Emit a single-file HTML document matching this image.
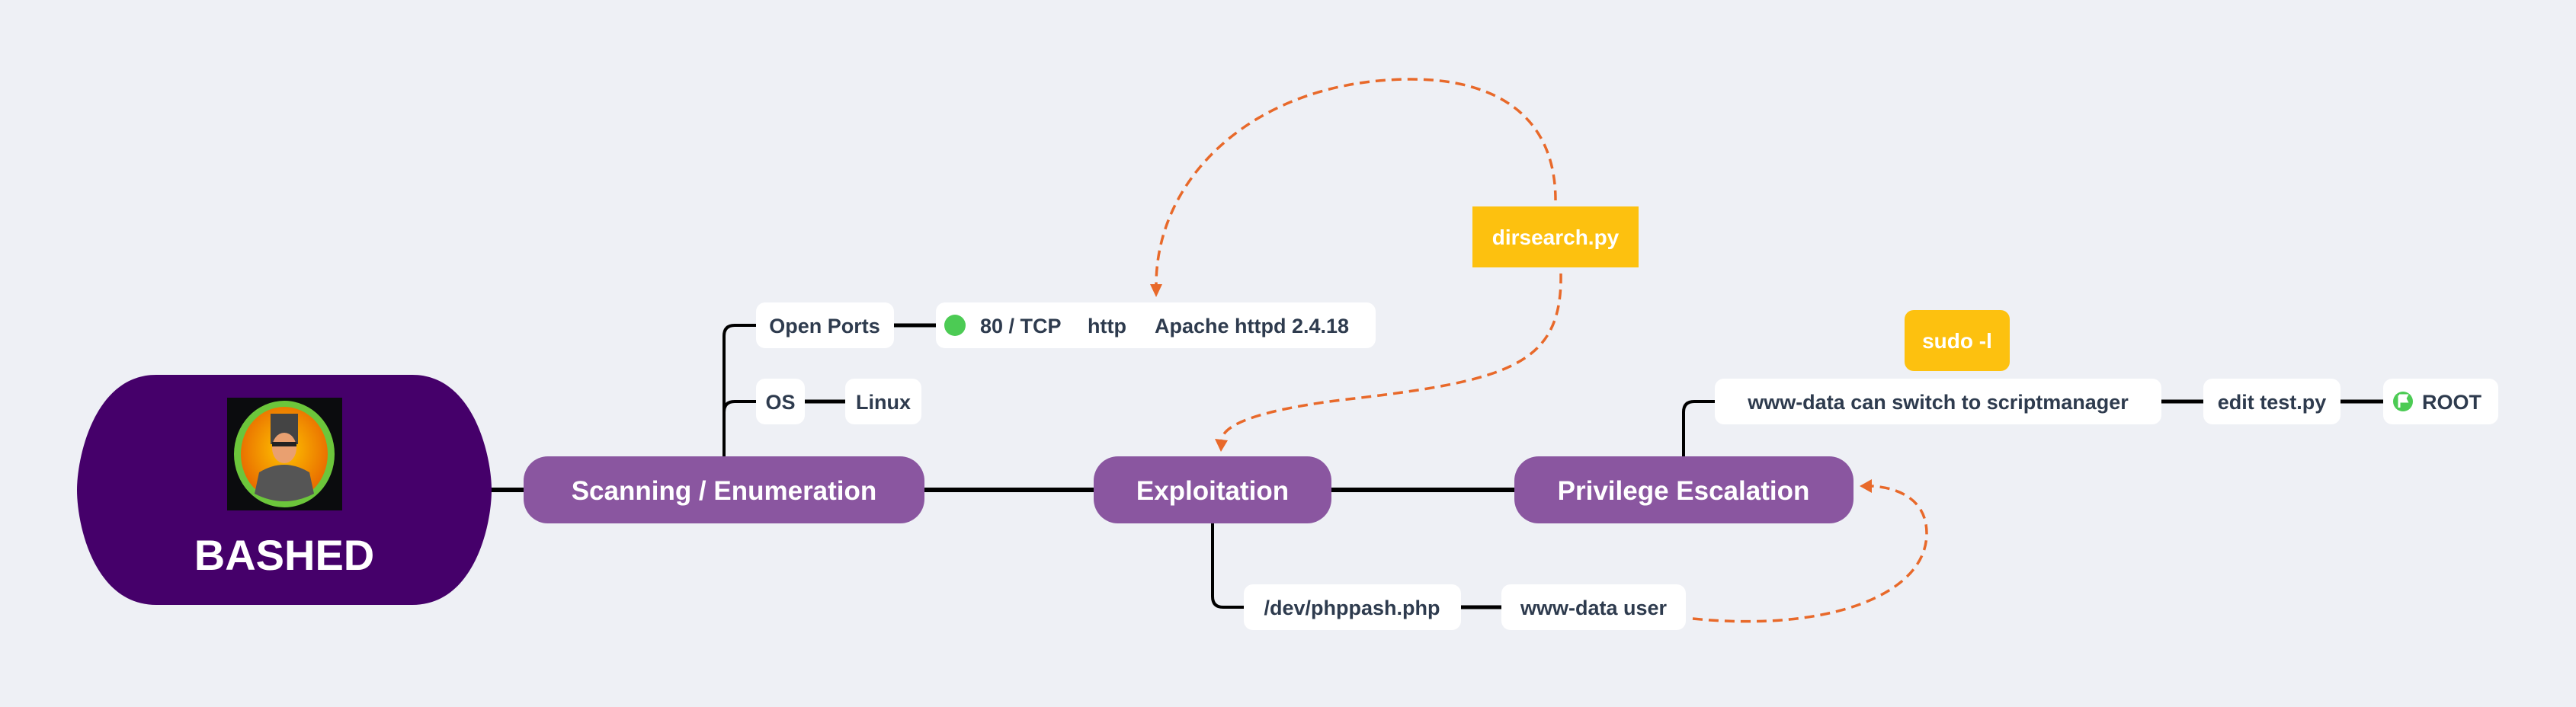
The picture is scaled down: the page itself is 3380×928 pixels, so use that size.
<!DOCTYPE html>
<html><head><meta charset="utf-8"><style>
html,body{margin:0;padding:0;background:#eef0f5;}
svg{display:block;}
text{font-family:"Liberation Sans",sans-serif;font-weight:bold;}
.d{fill:#2e3b4e;font-size:27px;}
.w{fill:#fff;}
</style></head><body>
<svg width="3380" height="928" viewBox="0 0 3380 928" xmlns="http://www.w3.org/2000/svg">
<rect width="3380" height="928" fill="#eef0f5"/>
<!-- main lines -->
<g stroke="#000" stroke-width="6" fill="none">
<line x1="640" y1="643" x2="690" y2="643"/>
<line x1="1210" y1="643" x2="1440" y2="643"/>
<line x1="1744" y1="643" x2="1990" y2="643"/>
</g>
<g stroke="#000" stroke-width="5" fill="none">
<line x1="1173" y1="427" x2="1228" y2="427"/>
<line x1="1056" y1="527" x2="1109" y2="527"/>
<line x1="2836" y1="527" x2="2891" y2="527"/>
<line x1="3071" y1="527" x2="3127" y2="527"/>
<line x1="1917" y1="797" x2="1970" y2="797"/>
</g>
<g stroke="#000" stroke-width="4" fill="none">
<path d="M950 600 V441 Q950 427 964 427 H994"/>
<path d="M950 541 Q950 527 964 527 H994"/>
<path d="M1591 686 V783 Q1591 797 1605 797 H1634"/>
<path d="M2209 600 V541 Q2209 527 2223 527 H2252"/>
</g>
<!-- BASHED -->
<path d="M205 492 H541 C622 492 645 600 645 643 C645 690 622 794 541 794 H205 C124 794 101 690 101 643 C101 600 124 492 205 492 Z" fill="#45006a"/>
<rect x="298" y="522" width="151" height="148" fill="#0b0c0e"/>
<defs><radialGradient id="og" cx="50%" cy="45%" r="55%"><stop offset="0" stop-color="#ffc400"/><stop offset="1" stop-color="#e86a00"/></radialGradient></defs>
<ellipse cx="373" cy="596" rx="66" ry="70" fill="#6cc63b"/>
<ellipse cx="373" cy="596" rx="57" ry="62" fill="url(#og)"/>
<path d="M340 620 Q373 600 406 620 L412 648 Q373 668 334 648 Z" fill="#555"/>
<rect x="355" y="543" width="36" height="40" fill="#444"/>
<ellipse cx="373" cy="588" rx="16" ry="20" fill="#e9a070"/>
<rect x="357" y="580" width="32" height="6" fill="#222"/>
<text x="373" y="748" text-anchor="middle" class="w" style="font-size:56px">BASHED</text>
<!-- purple nodes -->
<rect x="687" y="599" width="526" height="88" rx="32" fill="#8a56a0"/>
<text x="950" y="656" text-anchor="middle" class="w" style="font-size:35px">Scanning / Enumeration</text>
<rect x="1435" y="599" width="312" height="88" rx="32" fill="#8a56a0"/>
<text x="1591" y="656" text-anchor="middle" class="w" style="font-size:35px">Exploitation</text>
<rect x="1987" y="599" width="445" height="88" rx="32" fill="#8a56a0"/>
<text x="2209" y="656" text-anchor="middle" class="w" style="font-size:35px">Privilege Escalation</text>
<!-- white boxes -->
<g fill="#fff">
<rect x="992" y="397" width="181" height="60" rx="12"/>
<rect x="1228" y="397" width="577" height="60" rx="12"/>
<rect x="992" y="497" width="64" height="60" rx="12"/>
<rect x="1109" y="497" width="100" height="60" rx="12"/>
<rect x="1632" y="767" width="285" height="60" rx="12"/>
<rect x="1970" y="767" width="242" height="60" rx="12"/>
<rect x="2250" y="497" width="586" height="60" rx="12"/>
<rect x="2891" y="497" width="180" height="60" rx="12"/>
<rect x="3127" y="497" width="151" height="60" rx="12"/>
</g>
<text x="1082" y="437" text-anchor="middle" class="d">Open Ports</text>
<circle cx="1253" cy="427" r="14" fill="#4ccb54"/>
<text x="1286" y="437" class="d">80 / TCP</text>
<text x="1427" y="437" class="d">http</text>
<text x="1515" y="437" class="d">Apache httpd 2.4.18</text>
<text x="1024" y="537" text-anchor="middle" class="d">OS</text>
<text x="1159" y="537" text-anchor="middle" class="d">Linux</text>
<text x="1774" y="807" text-anchor="middle" class="d">/dev/phppash.php</text>
<text x="2091" y="807" text-anchor="middle" class="d">www-data user</text>
<text x="2543" y="537" text-anchor="middle" class="d">www-data can switch to scriptmanager</text>
<text x="2981" y="537" text-anchor="middle" class="d">edit test.py</text>
<circle cx="3153" cy="527" r="13" fill="#4ccb54"/>
<path d="M3148 519 V535 M3148 519 H3158 L3156 523 L3158 527 H3148" stroke="#fff" stroke-width="3" fill="#fff"/>
<text x="3178" y="537" class="d">ROOT</text>
<!-- yellow -->
<rect x="1932" y="271" width="218" height="80" fill="#fdc10f"/>
<text x="2041" y="321" text-anchor="middle" class="w" style="font-size:28px">dirsearch.py</text>
<rect x="2499" y="407" width="138" height="80" rx="12" fill="#fdc10f"/>
<text x="2568" y="457" text-anchor="middle" class="w" style="font-size:28px">sudo -l</text>
<!-- dashed arrows -->
<g stroke="#e8692a" stroke-width="3.5" fill="none" stroke-dasharray="13 8">
<path d="M2041 263 C2041 150 1960 104 1852 104 C1650 104 1517 230 1517 374"/>
<path d="M2048 359 C2050 480 1980 500 1760 525 C1640 540 1605 560 1603 577"/>
<path d="M2221 812 C2400 830 2528 780 2528 700 C2528 655 2490 640 2456 638"/>
</g>
<g fill="#e8692a">
<path d="M1509 373 L1525 373 L1517 390 Z"/>
<path d="M1594 576 L1611 578 L1602 593 Z"/>
<path d="M2456 629 L2456 647 L2440 638 Z"/>
</g>
</svg>
</body></html>
